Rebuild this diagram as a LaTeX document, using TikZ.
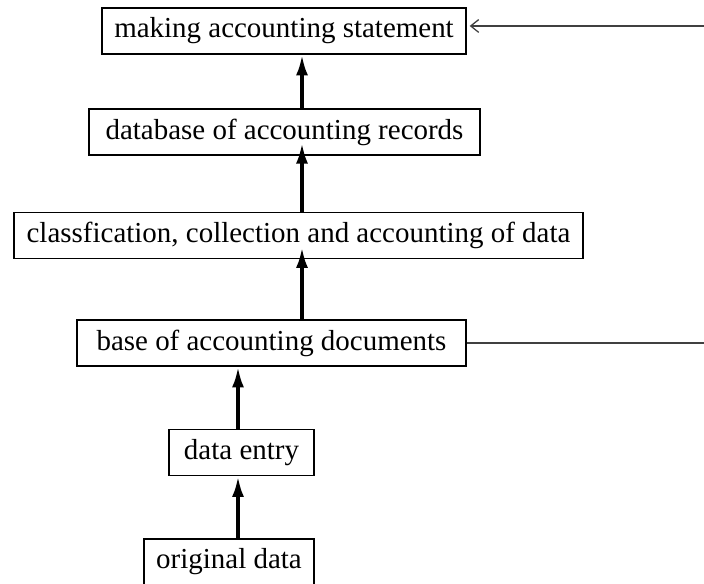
\documentclass[tikz,border=0pt]{standalone}
\usepackage{xcolor}
\usepackage{fontspec}
\setmainfont{Liberation Serif}
\usepackage{tikz}
\usetikzlibrary{arrows.meta}

\begin{document}
\begin{tikzpicture}[
        x=0.025cm, y=-0.025cm,
        box/.style={rectangle, draw=black, line width=0.9pt, minimum height=1.15cm, inner xsep=0pt, text centered, font=\fontsize{20.6}{24}\selectfont},
        up/.style={-{Latex[length=5.2mm,width=3mm]}, line width=2.6pt},
        side/.style={draw=black!75, line width=0.9pt}
    ]
        \useasboundingbox (0,0) rectangle (704,584);

        % Boxes
        \node[box, minimum width=9.1cm] (statement) at (284, 31) {making accounting statement};
        \node[box, minimum width=9.775cm] (records) at (284.5, 132) {database of accounting records};
        \node[box, minimum width=14.225cm] (classify) at (298.5, 235.5) {classfication, collection and accounting of data};
        \node[box, minimum width=9.725cm] (documents) at (271.5, 343) {base of accounting documents};
        \node[box, minimum width=3.625cm] (entry) at (241.5, 452.5) {data entry};
        \node[box, minimum width=4.25cm] (original) at (229, 562) {original data};

        % Arrow lines
        \coordinate (spine) at (302, 0);
        \coordinate (stem) at (238, 0);
        \coordinate (feedin) at (704, 26);
        \coordinate (feedout) at (704, 343);

        % Connections - upward flow
        \draw[up] (records.north -| spine) -- (statement.south -| spine);
        \draw[up, shorten >=-0.32cm] (classify.north -| spine) -- (records.south -| spine);
        \draw[up, shorten >=-0.3cm] (documents.north -| spine) -- (classify.south -| spine);
        \draw[up] (entry.north -| stem) -- (documents.south -| stem);
        \draw[up] (original.north -| stem) -- (entry.south -| stem);

        % Side lines
        \draw[side, -{Straight Barb[length=2mm,width=3.2mm]}, shorten >=0.075cm] (feedin) -- (statement.east |- feedin);
        \draw[side] (documents.east) -- (feedout);

    \end{tikzpicture}
\end{document}
